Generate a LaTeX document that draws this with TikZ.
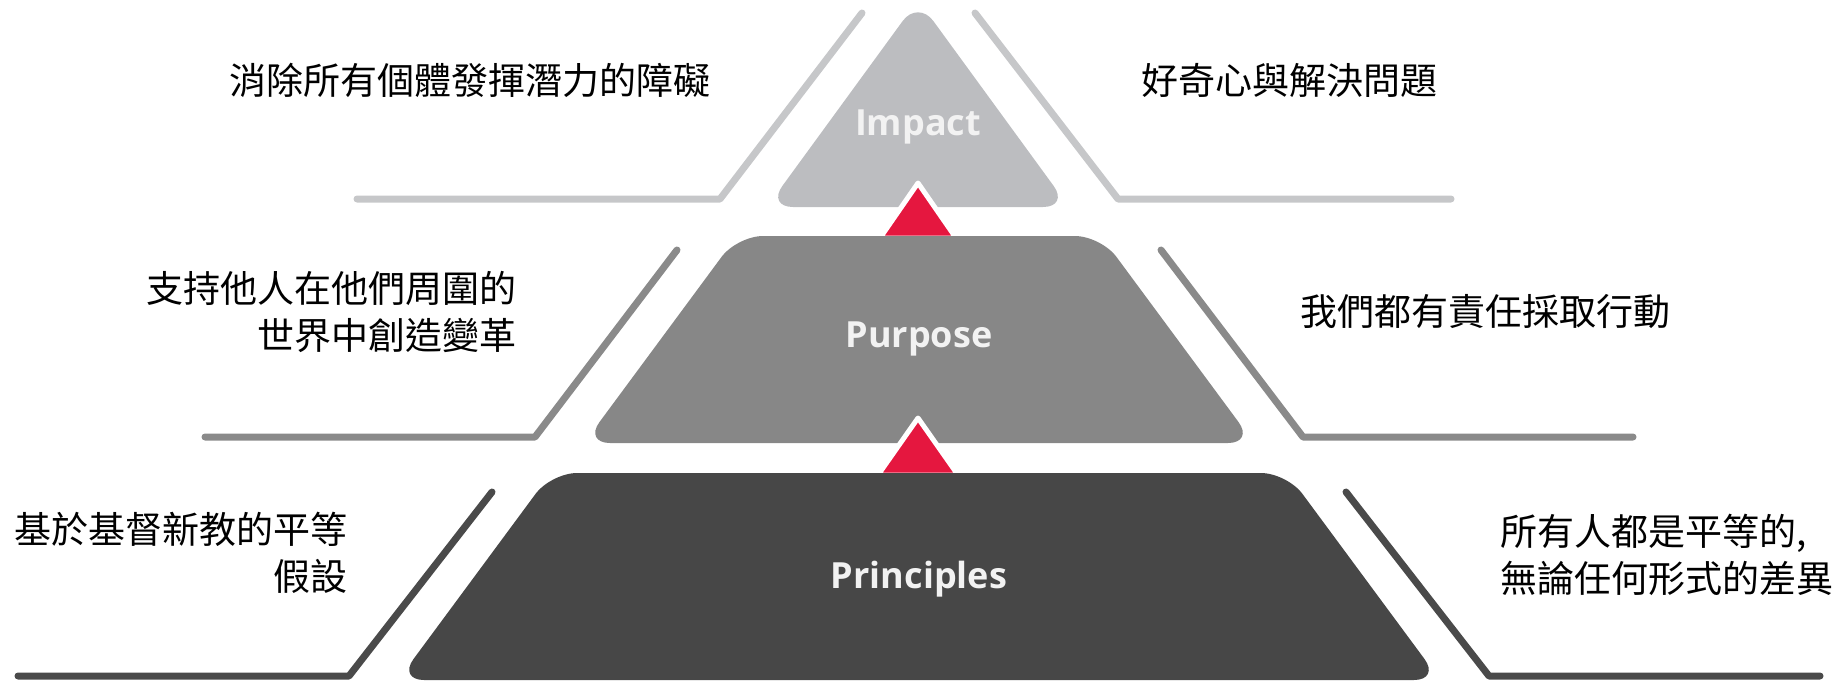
\documentclass[tikz,border=0pt]{standalone}
\usepackage{fontspec}
\newfontfamily\cjk{Noto Sans CJK TC}
\newfontfamily\labelfont{Open Sans}
\definecolor{impactgray}{HTML}{BCBDC0}
\definecolor{purposegray}{HTML}{878787}
\definecolor{principlegray}{HTML}{474747}
\definecolor{lightrail}{HTML}{C6C7C9}
\definecolor{midrail}{HTML}{8A8A8A}
\definecolor{darkrail}{HTML}{4A4A4A}
\definecolor{pointerred}{HTML}{E5173F}
\begin{document}
\begin{tikzpicture}[x=1pt,y=-1pt,
    tier/.style={rounded corners=26pt},
    rail/.style={line width=7pt,line cap=round,line join=round},
    pointer/.style={fill=pointerred,draw=white,line width=5pt,line join=round},
    tiertext/.style={font=\labelfont\bfseries\fontsize{36}{44}\selectfont,text=white!95!black},
    caption/.style={font=\cjk\fontsize{37}{47}\selectfont,inner sep=0pt,align=#1},
    caption/.default=center]
  \useasboundingbox (0,0) rectangle (1835,681);
  \draw[rail,lightrail] (862,13) -- (720,199) -- (357,199);
  \draw[rail,lightrail] (975,13) -- (1118,199) -- (1451,199);
  \draw[rail,midrail] (677,250) -- (535,437) -- (205,437);
  \draw[rail,midrail] (1161,250) -- (1303,437) -- (1633,437);
  \draw[rail,darkrail] (492,492) -- (349,676) -- (18,676);
  \draw[rail,darkrail] (1346,492) -- (1489,676) -- (1820,676);
  \fill[tier,impactgray] (918,0) -- (1069,207) -- (767,207) -- cycle;
  \filldraw[pointer] (918,183) -- (956,238) -- (880,238) -- cycle;
  \fill[tier,purposegray] (737,236) -- (1101,236) -- (1254,443) -- (584,443) -- cycle;
  \filldraw[pointer] (918,418) -- (958,475) -- (878,475) -- cycle;
  \fill[tier,principlegray] (551,473) -- (1287,473) -- (1440,680) -- (398,680) -- cycle;
  \node[tiertext] (impact) at (918,127) {Impact};
  \node[tiertext] (purpose) at (919,339) {Purpose};
  \node[tiertext] (principles) at (919,579) {Principles};
  \node[caption] (barriers) at (470,80) {消除所有個體發揮潛力的障礙};
  \node[caption] (curiosity) at (1289,80) {好奇心與解決問題};
  \node[caption=right,anchor=east] (change) at (517,312) {支持他人在他們周圍的\\世界中創造變革};
  \node[caption] (action) at (1485,312) {我們都有責任採取行動};
  \node[caption=right,anchor=east] (equality) at (348,553) {基於基督新教的平等\\假設};
  \node[caption=left,anchor=west] (difference) at (1500,555) {所有人都是平等的,\\無論任何形式的差異};
\end{tikzpicture}
\end{document}
